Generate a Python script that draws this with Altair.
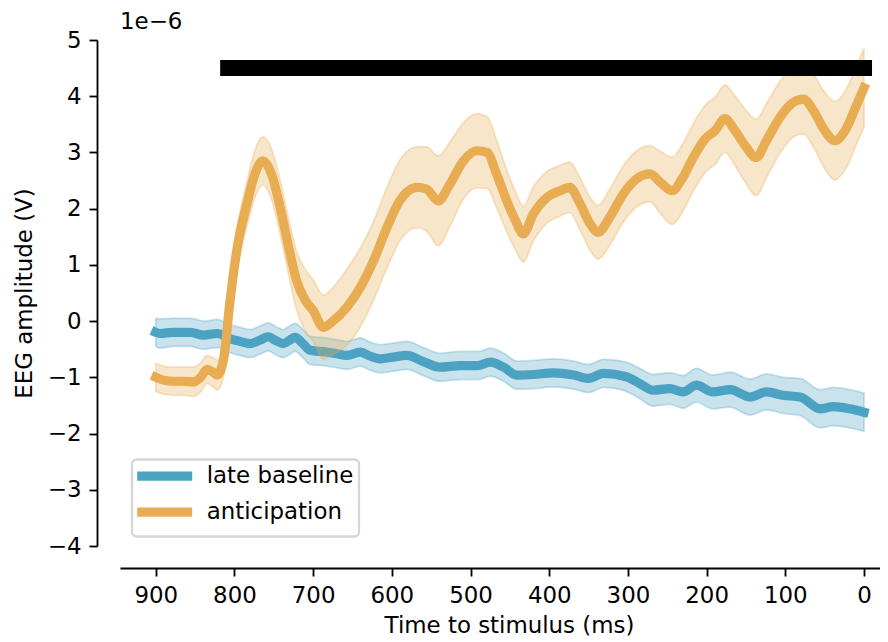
import altair as alt
import pandas as pd

# ---- data (amplitudes in units of 1e-6 V) ----
series_names = ["late baseline", "anticipation"]
series_colors = ["#4ca3c2", "#e8ac52"]

base_t = [900, 895, 878, 856, 839, 822, 806, 793, 780, 768, 757, 747, 738, 730, 723,
          713, 704, 683, 670, 657, 640, 628, 615, 598, 581, 560, 539, 513, 490, 475,
          458, 441, 420, 395, 369, 350, 331, 302, 285, 268, 247, 230, 213, 192, 170,
          145, 124, 103, 81, 56, 39, 18, 0]
base_mean = [-0.20, -0.22, -0.20, -0.20, -0.25, -0.22, -0.31, -0.36, -0.40, -0.34,
             -0.28, -0.35, -0.40, -0.34, -0.29, -0.40, -0.52, -0.55, -0.58, -0.61,
             -0.55, -0.62, -0.67, -0.64, -0.61, -0.72, -0.82, -0.79, -0.79, -0.73,
             -0.82, -0.96, -0.95, -0.92, -0.96, -1.02, -0.93, -0.99, -1.11, -1.23,
             -1.20, -1.26, -1.14, -1.26, -1.22, -1.35, -1.26, -1.32, -1.35, -1.56,
             -1.52, -1.56, -1.62]
base_sem = [0.25, 0.26, 0.25, 0.25, 0.25, 0.25, 0.25, 0.25, 0.25, 0.25,
            0.25, 0.25, 0.25, 0.25, 0.25, 0.25, 0.25, 0.25, 0.25, 0.25,
            0.25, 0.25, 0.25, 0.25, 0.25, 0.25, 0.25, 0.25, 0.25, 0.25,
            0.25, 0.25, 0.25, 0.25, 0.25, 0.25, 0.25, 0.26, 0.27, 0.28,
            0.28, 0.29, 0.30, 0.30, 0.31, 0.32, 0.32, 0.32, 0.33, 0.34,
            0.34, 0.34, 0.34]

ant_t = [900, 890, 878, 865, 852, 843, 835, 828, 822, 814, 806, 797, 784, 774, 764,
         753, 742, 731, 721, 710, 700, 687, 674, 657, 640, 623, 606, 590, 568, 556,
         541, 526, 509, 492, 479, 467, 454, 443, 433, 420, 403, 386, 374, 361, 348,
         338, 323, 306, 289, 272, 259, 244, 230, 217, 202, 189, 177, 164, 151, 137,
         124, 107, 90, 77, 64, 50, 37, 24, 9, 0]
ant_mean = [-1.00, -1.05, -1.07, -1.07, -1.08, -1.00, -0.86, -0.90, -0.96, -0.70,
            0.31, 1.26, 2.09, 2.62, 2.85, 2.62, 2.03, 1.31, 0.72, 0.37,
            0.19, -0.11, 0.01, 0.25, 0.60, 1.08, 1.67, 2.14, 2.38, 2.35,
            2.14, 2.44, 2.85, 3.03, 3.00, 2.62, 2.14, 1.79, 1.55, 1.91,
            2.20, 2.32, 2.38, 2.09, 1.73, 1.58, 1.85, 2.26, 2.53, 2.62,
            2.47, 2.32, 2.56, 2.91, 3.24, 3.39, 3.60, 3.39, 3.12, 2.91,
            3.21, 3.62, 3.89, 3.95, 3.74, 3.39, 3.21, 3.39, 3.86, 4.15]
ant_sem = [0.25, 0.25, 0.25, 0.25, 0.26, 0.26, 0.25, 0.26, 0.27, 0.30,
           0.35, 0.38, 0.40, 0.42, 0.43, 0.45, 0.48, 0.50, 0.52, 0.55,
           0.55, 0.57, 0.60, 0.68, 0.70, 0.70, 0.72, 0.72, 0.72, 0.75,
           0.80, 0.75, 0.68, 0.66, 0.64, 0.60, 0.55, 0.52, 0.50, 0.48,
           0.46, 0.45, 0.45, 0.46, 0.47, 0.48, 0.50, 0.50, 0.50, 0.50,
           0.55, 0.60, 0.60, 0.60, 0.60, 0.60, 0.60, 0.62, 0.65, 0.68,
           0.66, 0.64, 0.62, 0.62, 0.65, 0.68, 0.70, 0.70, 0.70, 0.70]

sig_start = [808]
sig_end = [0]
sig_level = [4.5]

x_ticks = [0, 100, 200, 300, 400, 500, 600, 700, 800, 900]
y_ticks = [-4, -3, -2, -1, 0, 1, 2, 3, 4, 5]

FONT = "DejaVu Sans"
FS = 22.9


def make_df(t, m, s, name):
    return pd.DataFrame({
        "t": t, "mean": m,
        "lo": [a - b for a, b in zip(m, s)],
        "hi": [a + b for a, b in zip(m, s)],
        "series": name,
    })


base_df = make_df(base_t, base_mean, base_sem, series_names[0])
ant_df = make_df(ant_t, ant_mean, ant_sem, series_names[1])
sig_df = pd.DataFrame({"start": sig_start, "end": sig_end, "level": sig_level})

xscale = alt.Scale(domain=[945.4, -20.3], nice=False, zero=False)
yscale = alt.Scale(domain=[-4, 5], nice=False, zero=False)

x_enc = alt.X("t:Q", scale=xscale,
              axis=alt.Axis(values=x_ticks, format="d", title="Time to stimulus (ms)",
                            offset=22, titleX=389, titlePadding=8))
y_enc = alt.Y("mean:Q", scale=yscale,
              axis=alt.Axis(values=y_ticks, format="d", title="EEG amplitude (V)",
                            offset=23, titlePadding=11))

color_scale = alt.Scale(domain=series_names, range=series_colors)
legend = alt.Legend(
    orient="none", legendX=12, legendY=419.5, title=None,
    symbolType="M-1.6727,0H6.3273", symbolSize=189, symbolStrokeWidth=9.2,
    labelFont=FONT, labelFontSize=FS, labelColor="black", labelOffset=46.5,
    labelLimit=400, rowPadding=-1.1, padding=5.2,
    strokeColor="#d6d6d6", cornerRadius=4.6, fillColor="rgba(255,255,255,0.8)",
)


def line_layer(df):
    return alt.Chart(df).mark_line(
        strokeWidth=9.2, strokeCap="square", strokeJoin="round", interpolate="monotone"
    ).encode(
        x=x_enc, y=y_enc,
        color=alt.Color("series:N", scale=color_scale, legend=legend),
    )


def band_layer(df, col):
    return alt.Chart(df).mark_area(
        fill=col, stroke=col, fillOpacity=0.3, strokeOpacity=0.3, strokeWidth=1.8,
        interpolate="monotone"
    ).encode(
        x=alt.X("t:Q", scale=xscale),
        y=alt.Y("lo:Q", scale=yscale),
        y2="hi:Q",
    )


sig = alt.Chart(sig_df).mark_rule(color="black", strokeWidth=16, strokeCap="square").encode(
    x=alt.X("start:Q", scale=xscale), x2="end:Q", y=alt.Y("level:Q", scale=yscale)
)

chart = alt.layer(
    line_layer(base_df), band_layer(base_df, series_colors[0]),
    line_layer(ant_df), band_layer(ant_df, series_colors[1]),
    sig,
).properties(
    width=760, height=506,
    title=alt.TitleParams("1e\u22126", anchor="start", frame="group", font=FONT,
                          fontSize=FS, fontWeight="normal", color="black",
                          baseline="alphabetic", offset=-23),
    autosize=alt.AutoSizeParams(type="none"),
    padding={"left": 112, "top": 32, "right": 0, "bottom": 92},
).configure(background="white").configure_view(stroke=None).configure_axis(
    grid=False, labelFont=FONT, labelFontSize=FS, labelColor="black",
    titleFont=FONT, titleFontSize=FS, titleFontWeight="normal", titleColor="black",
    tickColor="black", tickSize=8, tickWidth=1.83, domainColor="black", domainWidth=1.83,
    labelPadding=8,
).configure_legend(strokeWidth=2.3)

chart.save("out.html", embed_options={"renderer": "svg", "actions": False})
